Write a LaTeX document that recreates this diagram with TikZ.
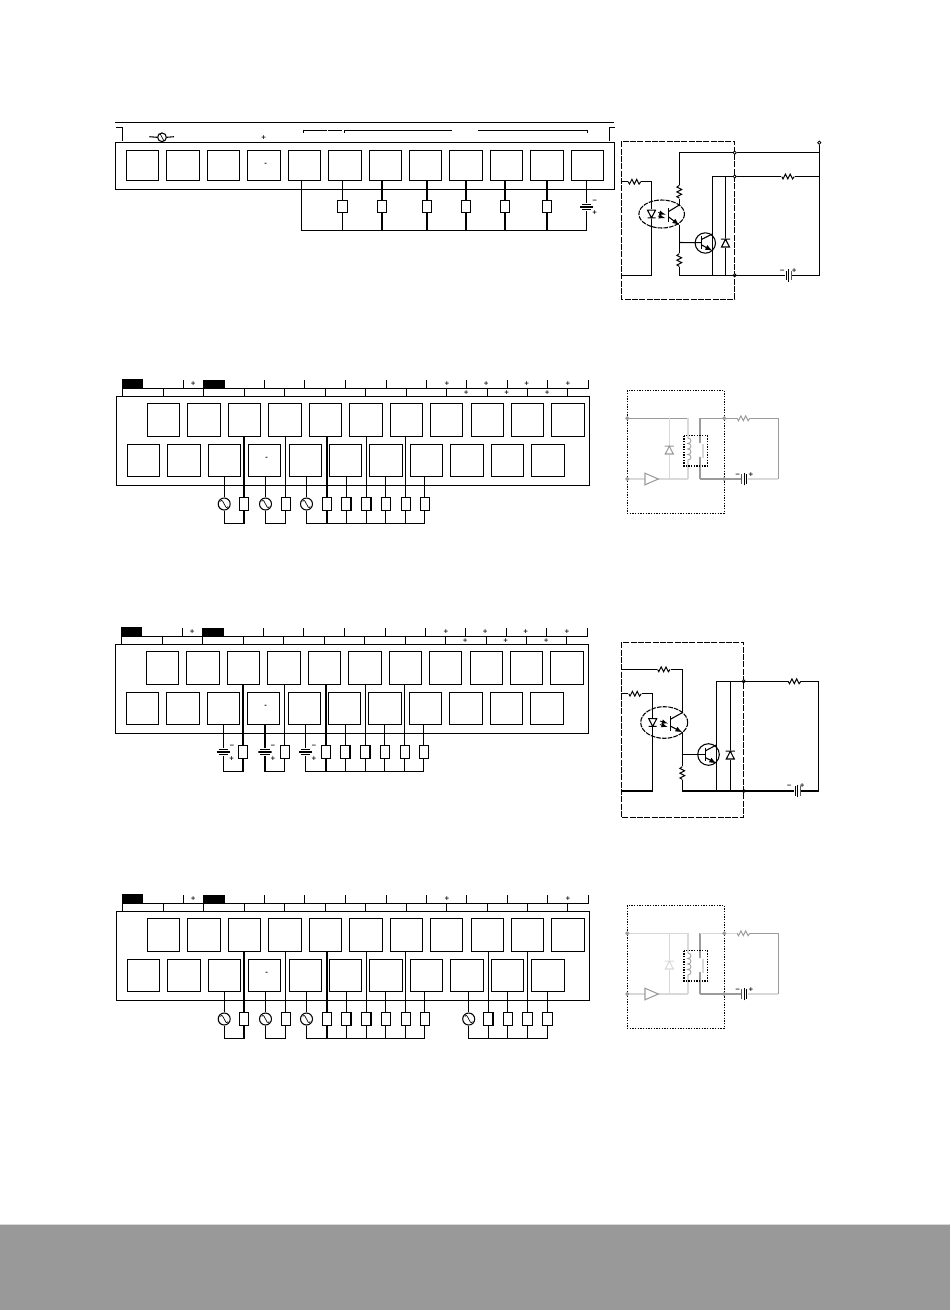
\documentclass[tikz,border=0pt]{standalone}
\usepackage{tikz}
\usepackage{fontspec}
\usetikzlibrary{arrows}
\newfontfamily\signfont{DejaVu Sans}
\definecolor{bandgray}{RGB}{153,153,153}
\definecolor{wiregray}{RGB}{155,155,155}
\definecolor{wirelight}{RGB}{217,217,217}
\tikzset{
  term/.style={draw,inner sep=0pt,minimum width=24.3pt,minimum height=24.5pt},
  termw/.style={term,minimum width=25pt},
  load/.style={draw,inner sep=0pt,minimum width=7pt,minimum height=9.6pt},
  signmark/.style={inner sep=0pt,font=\signfont\fontsize{4.6}{4.6}\selectfont\bfseries},
  pindot/.style={draw,circle,fill=white,inner sep=0pt,minimum size=2.4pt,line width=.6pt},
  acsrc/.style={draw,circle,inner sep=0pt,minimum size=9pt,path picture={\draw[line width=.5pt,shift={(path picture bounding box.center)}] (-3.8,2.6) .. controls (-2,5.5) and (-1,1.5) .. (0,0) .. controls (1,-1.5) and (2,-5.5) .. (3.8,-2.6);}},
  acsmall/.style={acsrc,minimum size=6.5pt},
  batv/.style={inner sep=0pt,minimum width=10pt,minimum height=5pt,path picture={\draw[shift={(path picture bounding box.center)}] (-4.6,-2.8) -- (4.6,-2.8) (-6.7,0) -- (6.7,0) (-4.6,2.8) -- (4.6,2.8);}},
  bath/.style={inner sep=0pt,minimum width=4.5pt,minimum height=9.6pt,path picture={\draw[shift={(path picture bounding box.center)}] (-2.5,-4.8) -- (-2.5,4.8) (0.2,-6.3) -- (0.2,6.3) (2.5,-4.8) -- (2.5,4.8);}},
  resh/.style={inner sep=0pt,minimum width=9.5pt,minimum height=5pt,path picture={\draw[line width=.75pt,shift={(path picture bounding box.center)}] (-6.4,0) -- (-5,-2.4) -- (-2.6,2.4) -- (-.2,-2.4) -- (2.2,2.4) -- (4.6,-2.4) -- (6.4,0);}},
  resv/.style={inner sep=0pt,minimum width=5pt,minimum height=9.5pt,path picture={\draw[line width=.75pt,shift={(path picture bounding box.center)}] (0,-6.4) -- (-2.4,-5) -- (2.4,-2.6) -- (-2.4,-.2) -- (2.4,2.2) -- (-2.4,4.6) -- (0,6.4);}},
  ledsym/.style={inner sep=0pt,minimum width=7pt,minimum height=6.4pt,path picture={\draw[shift={(path picture bounding box.center)}] (-4,3.8) -- (4,3.8) -- (0,-3.8) -- cycle (-4,-3.8) -- (4,-3.8);}},
  zener/.style={inner sep=0pt,minimum width=7.5pt,minimum height=6.6pt,path picture={\draw[shift={(path picture bounding box.center)}] (-4.6,3.8) -- (4.6,3.8) (-4,-4) -- (4,-4) -- (0,3.8) -- cycle;}},
  dashbox/.style={dash pattern=on 4.5pt off 1pt},
  dotbox/.style={dash pattern=on 1pt off 1pt},
  relaythick/.style={line width=1.3pt,color=wirelight}
}
% strip of two rows with the ticks above it
\newcommand{\termstrip}[1]{
%Shape: Rectangle
\draw (116.3,396.3) rectangle (589.7,485.7);
%Straight Lines
\draw (122.3,396.3) -- (122.3,388.3) -- (588.3,388.3) -- (588.3,380);
\draw (163.3,396.3) -- (163.3,388.3) (203.3,396.3) -- (203.3,388.3) (244.3,396.3) -- (244.3,388.3) (284.3,396.3) -- (284.3,388.3) (325.3,396.3) -- (325.3,388.3) (365.3,396.3) -- (365.3,388.3) (406.3,396.3) -- (406.3,388.3) (446.3,396.3) -- (446.3,388.3) (487.3,396.3) -- (487.3,388.3) (527.3,396.3) -- (527.3,388.3) (567.3,396.3) -- (567.3,388.3);
\draw (183.3,388.3) -- (183.3,380) (264.3,388.3) -- (264.3,380) (304.3,388.3) -- (304.3,380) (345.3,388.3) -- (345.3,380) (386.3,388.3) -- (386.3,380) (426.3,388.3) -- (426.3,380) (466.3,388.3) -- (466.3,380) (507.3,388.3) -- (507.3,380) (547.3,388.3) -- (547.3,380);
%Shape: Black tabs
\fill (122.3,379) rectangle (142.8,388.3);
\fill (203,380.3) rectangle (225,388.3);
% top row
\node[term] (#1t1) at (163.3,419.8) {};
\node[termw] (#1t2) at (204,419.8) {};
\node[term] (#1t3) at (244.5,419.8) {};
\node[termw] (#1t4) at (285,419.8) {};
\node[term] (#1t5) at (325.5,419.8) {};
\node[termw] (#1t6) at (366,419.8) {};
\node[term] (#1t7) at (406.5,419.8) {};
\node[term] (#1t8) at (446.5,419.8) {};
\node[term] (#1t9) at (487.5,419.8) {};
\node[term] (#1t10) at (527.5,419.8) {};
\node[termw] (#1t11) at (568,419.8) {};
% bottom row
\node[term] (#1b1) at (143.5,460.5) {};
\node[termw] (#1b2) at (184,460.5) {};
\node[term] (#1b3) at (224.5,460.5) {};
\node[term] (#1b4) at (264.5,460.5) {};
\node[term] (#1b5) at (305.5,460.5) {};
\node[term] (#1b6) at (345.5,460.5) {};
\node[termw] (#1b7) at (386,460.5) {};
\node[term] (#1b8) at (426.5,460.5) {};
\node[termw] (#1b9) at (467,460.5) {};
\node[term] (#1b10) at (507.5,460.5) {};
\node[termw] (#1b11) at (548,460.5) {};
% Text Node
\node[signmark] (#1m1) at (193.3,383.3) {+};
\node[signmark] (#1m2) at (447,383.3) {+};
\node[signmark] (#1m3) at (568,383.3) {+};
\node[signmark] (#1m4) at (266.7,458.3) {-};
}
% eight loads and the wires of the three source groups
\newcommand{\loadgroup}[1]{
\coordinate (#1busy) at (0,523.3);
\node[load] (#1l1) at (244,503.8) {};
\node[load] (#1l2) at (285.7,503.8) {};
\node[load] (#1l3) at (327,503.8) {};
\node[load] (#1l4) at (346.3,503.8) {};
\node[load] (#1l5) at (366.3,503.8) {};
\node[load] (#1l6) at (385.7,503.8) {};
\node[load] (#1l7) at (405.7,503.8) {};
\node[load] (#1l8) at (424.7,503.8) {};
\draw (#1s1.north |- #1b3.south) -- (#1s1.north);
\draw (#1s2.north |- #1b4.south) -- (#1s2.north);
\draw (#1s3.north |- #1b5.south) -- (#1s3.north);
\draw (#1s1.south) |- (#1busy -| #1l1.south) -- (#1l1.south);
\draw (#1s2.south) |- (#1busy -| #1l2.south) -- (#1l2.south);
\draw (#1s3.south) |- (#1busy -| #1l8.south) -- (#1l8.south);
\draw (#1l3.south) -- (#1l3.south |- #1busy);
\draw (#1l4.south) -- (#1l4.south |- #1busy);
\draw (#1l5.south) -- (#1l5.south |- #1busy);
\draw (#1l6.south) -- (#1l6.south |- #1busy);
\draw (#1l7.south) -- (#1l7.south |- #1busy);
\draw (#1l1.north) -- (#1l1.north |- #1t3.south);
\draw (#1l2.north) -- (#1l2.north |- #1t4.south);
\draw (#1l3.north) -- (#1l3.north |- #1t5.south);
\draw (#1l4.north) -- (#1l4.north |- #1b6.south);
\draw (#1l5.north) -- (#1l5.north |- #1t6.south);
\draw (#1l6.north) -- (#1l6.north |- #1b7.south);
\draw (#1l7.north) -- (#1l7.north |- #1t7.south);
\draw (#1l8.north) -- (#1l8.north |- #1b8.south);
}
% relay output block, #2 is the colour of the upper wire and of the diode
\newcommand{\relayblock}[2]{
\coordinate (#1in1) at (627.3,418.3);
\coordinate (#1in2) at (627.3,479);
\coordinate (#1rt) at (778.3,418.3);
\coordinate (#1rb) at (778.3,479);
\coordinate (#1dt) at (669.3,418.3);
\coordinate (#1db) at (669.3,479);
\coordinate (#1coilt) at (687.7,418.3);
\coordinate (#1coilb) at (687.7,479);
\coordinate (#1cont) at (700,418.3);
\coordinate (#1conb) at (700,479);
\coordinate (#1trit) at (658.3,479);
\coordinate (#1tril) at (645,479);
\node[resh,color=wiregray] (#1r) at (743.5,418.3) {};
\node[bath,color=black] (#1v) at (744.3,479) {};
\node[zener,color=#2] (#1d) at (669.3,450) {};
\draw[color=wirelight] (#1in2) -- (#1tril);
\draw[color=wirelight] (#1trit) -- (#1coilb);
\draw[color=#2] (#1in1) -- (#1coilt);
\draw[color=wirelight] (#1dt) -- (#1d.north) (#1d.south) -- (#1db);
\draw[relaythick] (#1coilt) -- (687.7,438) (687.7,460) -- (#1coilb);
\draw[color=wiregray] (#1tril) ++(0,-5.8) -- ++(0,11.6) -- (#1trit) -- cycle;
\draw[color=wiregray,line width=.6pt] (687.7,438) .. controls (692,438) and (692,443.5) .. (687.7,443.5) .. controls (692,443.5) and (692,449) .. (687.7,449) .. controls (692,449) and (692,454.5) .. (687.7,454.5) .. controls (692,454.5) and (692,460) .. (687.7,460);
\draw[color=wiregray] (#1cont) -- (700,442.3) (700,457.7) -- (#1conb);
\draw[color=#2] (#1cont) -- (#1r.west);
\draw[color=wiregray] (#1r.east) -| (#1rb);
\draw[color=wirelight] (#1rb) -- (#1v.east);
\draw[color=wiregray] (#1conb) -- (#1v.west);
\draw[relaythick] (703.3,443.5) -- (703.3,458);
\fill[color=wiregray] (700,442.3) circle [radius=1.1] (700,457.7) circle [radius=1.1];
%Shape: Rectangle
\draw[dotbox] (627.3,390.3) rectangle (724.3,513.3);
\draw[dotbox] (684,435.7) rectangle (707.3,466);
\node[pindot,color=wiregray] (#1p1) at (#1in1) {};
\node[pindot,color=wiregray] (#1p2) at (#1in2) {};
\node[pindot,color=wiregray] (#1p3) at (724.3,418.3) {};
\node[pindot,color=wiregray] (#1p4) at (724.3,479) {};
\node[signmark,color=black] (#1mn) at (737.7,475) {−};
\node[signmark,color=black] (#1pl) at (751,475) {+};
}
\begin{document}
\begin{tikzpicture}[x=0.75pt,y=0.75pt,yscale=-1,xscale=1,line width=0.8pt]
\useasboundingbox (0,0) rectangle (950,1310);

%Shape: Bottom band
\fill[color=wirelight] (0,1224) rectangle (950,1225);
\fill[color=bandgray] (0,1225) rectangle (950,1310);

%First strip
\draw (115.3,122.3) -- (614.3,122.3);
\draw (115.8,127.7) -- (122.7,127.7) -- (122.7,140.7);
\draw (615,127.7) -- (609.7,127.7) -- (609.7,140.7);
\draw (303.3,132.7) -- (303.3,130.3) -- (326.7,130.3);
\draw (328,130.3) -- (342,130.3);
\draw (344.3,132.7) -- (344.3,130.3) -- (451.7,130.3);
\draw (478.3,130.3) -- (587.7,130.3) -- (587.7,132.7);
\node[acsmall] (hac) at (162,137.3) {};
\draw (149.3,136.7) -- (hac.west);
\draw (hac.east) -- (174,136.7);
\node[signmark] (hplus) at (263.7,138) {+};
\draw (115.3,142.3) rectangle (614.3,189.3);
\node[term,minimum height=22.5pt] (a1) at (142.5,165.3) {};
\node[termw,minimum height=22.5pt] (a2) at (183,165.3) {};
\node[term,minimum height=22.5pt] (a3) at (223.5,165.3) {};
\node[termw,minimum height=22.5pt] (a4) at (264,165.3) {};
\node[term,minimum height=22.5pt] (a5) at (304.5,165.3) {};
\node[termw,minimum height=22.5pt] (a6) at (345,165.3) {};
\node[term,minimum height=22.5pt] (a7) at (385.5,165.3) {};
\node[term,minimum height=22.5pt] (a8) at (425.5,165.3) {};
\node[termw,minimum height=22.5pt] (a9) at (466,165.3) {};
\node[term,minimum height=22.5pt] (a10) at (506.5,165.3) {};
\node[termw,minimum height=22.5pt] (a11) at (547,165.3) {};
\node[term,minimum height=22.5pt] (a12) at (587.5,165.3) {};
\node[signmark] (adash) at (265.7,164) {-};
\coordinate (abusl) at (301.7,230.3);
\coordinate (abusr) at (586.7,230.3);
\node[load] (al1) at (342.5,206.5) {};
\node[load] (al2) at (382,206.5) {};
\node[load] (al3) at (427,206.5) {};
\node[load] (al4) at (466,206.5) {};
\node[load] (al5) at (505,206.5) {};
\node[load] (al6) at (547,206.5) {};
\node[batv] (abat) at (586.7,207) {};
\node[signmark] (amn) at (594.7,201) {−};
\node[signmark] (apl) at (594.7,212.7) {+};
\draw (abusl |- a5.south) -- (abusl) -- (abusr) -- (abat.south);
\draw (abat.north) -- (abat.north |- a12.south);
\draw (al1.north) -- (al1.north |- a6.south);
\draw (al2.north) -- (al2.north |- a7.south);
\draw (al3.north) -- (al3.north |- a8.south);
\draw (al4.north) -- (al4.north |- a9.south);
\draw (al5.north) -- (al5.north |- a10.south);
\draw (al6.north) -- (al6.north |- a11.south);
\draw (al1.south) -- (al1.south |- abusl);
\draw (al2.south) -- (al2.south |- abusl);
\draw (al3.south) -- (al3.south |- abusl);
\draw (al4.south) -- (al4.south |- abusl);
\draw (al5.south) -- (al5.south |- abusl);
\draw (al6.south) -- (al6.south |- abusl);

%First output block
\draw[dashbox] (621.3,141.3) rectangle (734.7,299.3);
\coordinate (ina1) at (621.3,181.7);
\coordinate (ina2) at (621.3,275.3);
\coordinate (qa1c) at (679.3,205);
\coordinate (qa1e) at (679.3,225);
\coordinate (qa2b) at (701.7,242.7);
\coordinate (qa2c) at (712.3,234);
\coordinate (qa2e) at (712.3,250.7);
\coordinate (ja1) at (712.3,176.5);
\coordinate (ja2) at (712.3,275.3);
\coordinate (jz1) at (725.5,176.5);
\coordinate (jz2) at (725.5,275.3);
\node[resh] (ra1) at (634.5,181.7) {};
\node[resh] (ra2) at (788,176.5) {};
\node[resv] (ra3) at (679.3,191.7) {};
\node[resv] (ra4) at (679.3,260) {};
\node[bath] (ba1) at (788.7,275.3) {};
\node[signmark] (ba1m) at (782.3,271) {−};
\node[signmark] (ba1p) at (794.3,271) {+};
\node[ledsym] (leda) at (651.5,214) {};
\node[zener] (za) at (725.5,243) {};
\node[pindot] (pa0) at (819.3,142.7) {};
\node[pindot] (pa1) at (734.7,152.7) {};
\node[pindot] (pa2) at (734.7,176.5) {};
\node[pindot] (pa3) at (734.7,275.3) {};
\draw (ina1) -- (ra1.west);
\draw (ra1.east) -| (leda.north);
\draw (leda.south) |- (ina2);
\draw (ra3.north) |- (pa1);
\draw (pa1) -- (pa0 |- pa1);
\draw (pa0) |- (ba1.east);
\draw (ra2.east) -- (ra2.east -| pa0);
\draw (pa2) -- (ra2.west);
\draw (pa2) -- (ja1) -- (ja2);
\draw (jz1) -- (za.north);
\draw (za.south) -- (jz2);
\draw (ra4.south) |- (ba1.west);
\draw (ra3.south) -- (qa1c);
\draw (qa1e) -- (ra4.north);
\draw (668.3,208.3) -- (668.3,221.7);
\draw (668.3,211.7) -- (qa1c);
\draw[-latex] (668.3,216.7) -- (qa1e);
\draw[line width=.6pt,-latex] (658.3,212.5) -- (665.5,214.5);
\draw[line width=.6pt,-latex] (658,216) -- (665,218);
\draw[dash pattern=on 3.5pt off .8pt] (661.7,214) circle [x radius=22.8,y radius=14];
\draw (679.3,242.5) -- (qa2b);
\draw (qa2b) ++(0,-6.3) -- ++(0,12.6);
\draw (701.7,239.3) -- (qa2c);
\draw[-latex] (701.7,245) -- (qa2e);
\draw (705.3,243) circle [radius=10.2];

%Second strip
\termstrip{bb}
\node[signmark] (bbm5) at (486.3,383.3) {+};
\node[signmark] (bbm6) at (526.7,383.3) {+};
\node[signmark] (bbm7) at (466.3,392.7) {+};
\node[signmark] (bbm8) at (506.7,392.7) {+};
\node[signmark] (bbm9) at (547.3,392.7) {+};
\node[acsrc] (bbs1) at (224.2,504) {};
\node[acsrc] (bbs2) at (265.5,504) {};
\node[acsrc] (bbs3) at (306.5,504) {};
\loadgroup{bb}
\relayblock{bx}{wiregray}

%Third strip
\begin{scope}[shift={(-1,248)}]
\termstrip{cc}
\node[signmark] (ccm5) at (486.3,383.3) {+};
\node[signmark] (ccm6) at (526.7,383.3) {+};
\node[signmark] (ccm7) at (466.3,392.7) {+};
\node[signmark] (ccm8) at (506.7,392.7) {+};
\node[signmark] (ccm9) at (547.3,392.7) {+};
\node[batv] (ccs1) at (224.3,504) {};
\node[batv] (ccs2) at (266,504) {};
\node[batv] (ccs3) at (306.7,504) {};
\node[signmark] (ccn1) at (233,498) {−};
\node[signmark] (ccp1) at (232.7,510.7) {+};
\node[signmark] (ccn2) at (274,498) {−};
\node[signmark] (ccp2) at (274,510.7) {+};
\node[signmark] (ccn3) at (315,498) {−};
\node[signmark] (ccp3) at (315,510.7) {+};
\loadgroup{cc}
\end{scope}

%Third output block
\draw[dashbox] (621.3,642.3) rectangle (743.7,817.3);
\coordinate (inc1) at (621.3,669.3);
\coordinate (inc2) at (621.3,693.7);
\coordinate (inc3) at (621.3,791);
\coordinate (qc1c) at (682.3,712.7);
\coordinate (qc1e) at (682.3,732.3);
\coordinate (qc2b) at (705.7,754.3);
\coordinate (qc2c) at (716.3,745);
\coordinate (qc2e) at (716.3,763.3);
\coordinate (jc1) at (716.3,681.3);
\coordinate (jc2) at (716.3,791);
\coordinate (jz3) at (730.3,681.3);
\coordinate (jz4) at (730.3,791);
\coordinate (crn) at (818.3,681.3);
\coordinate (crb) at (818.3,791);
\node[resh] (rc1) at (663.8,669.3) {};
\node[resh] (rc2) at (635,693.7) {};
\node[resv] (rc3) at (682.3,773) {};
\node[resh] (rc4) at (794.5,681.3) {};
\node[bath] (bc1) at (797.7,791) {};
\node[signmark] (bc1m) at (789.3,786) {−};
\node[signmark] (bc1p) at (802.3,786) {+};
\node[ledsym] (ledc) at (652.7,722.5) {};
\node[zener] (zc) at (730.3,755) {};
\node[pindot] (pc1) at (743.7,681.3) {};
\node[pindot] (pc2) at (743.7,791) {};
\draw (inc1) -- (rc1.west);
\draw (rc1.east) -| (qc1c);
\draw (inc2) -- (rc2.west);
\draw (rc2.east) -| (ledc.north);
\draw (ledc.south) |- (inc3);
\draw (qc1e) -- (rc3.north);
\draw (rc3.south) |- (bc1.west);
\draw (bc1.east) -| (crb) -- (crn) -- (rc4.east);
\draw (rc4.west) -- (jc1) -- (jc2);
\draw (jz3) -- (zc.north);
\draw (zc.south) -- (jz4);
\draw (670.3,716) -- (670.3,731);
\draw (670.3,719.3) -- (qc1c);
\draw[-latex] (670.3,726) -- (qc1e);
\draw[line width=.6pt,-latex] (660,721) -- (668,723.5);
\draw[line width=.6pt,-latex] (660,724.5) -- (667.5,727);
\draw[dash pattern=on 3.5pt off .8pt] (664.2,722.5) circle [x radius=23.5,y radius=15.8];
\draw (682.3,754.3) -- (qc2b);
\draw (qc2b) ++(0,-6.6) -- ++(0,13.2);
\draw (705.7,750.7) -- (qc2c);
\draw[-latex] (705.7,757.7) -- (qc2e);
\draw (708.5,754.5) circle [radius=10.8];

%Fourth strip
\begin{scope}[shift={(0,515)}]
\termstrip{dd}
\node[acsrc] (dds1) at (224.2,504) {};
\node[acsrc] (dds2) at (265.5,504) {};
\node[acsrc] (dds3) at (306.5,504) {};
\loadgroup{dd}
\node[acsrc] (dds4) at (468.7,504) {};
\node[load] (ddl9) at (488.3,503.8) {};
\node[load] (ddl10) at (507.7,503.8) {};
\node[load] (ddl11) at (527.5,503.8) {};
\node[load] (ddl12) at (547.5,503.8) {};
\draw (dds4.north |- ddb9.south) -- (dds4.north);
\draw (dds4.south) |- (ddbusy -| ddl12.south) -- (ddl12.south);
\draw (ddl9.south) -- (ddl9.south |- ddbusy);
\draw (ddl10.south) -- (ddl10.south |- ddbusy);
\draw (ddl11.south) -- (ddl11.south |- ddbusy);
\draw (ddl9.north) -- (ddl9.north |- ddt9.south);
\draw (ddl10.north) -- (ddl10.north |- ddb10.south);
\draw (ddl11.north) -- (ddl11.north |- ddt10.south);
\draw (ddl12.north) -- (ddl12.north |- ddb11.south);
\relayblock{dx}{wirelight}
\end{scope}

\end{tikzpicture}
\end{document}
